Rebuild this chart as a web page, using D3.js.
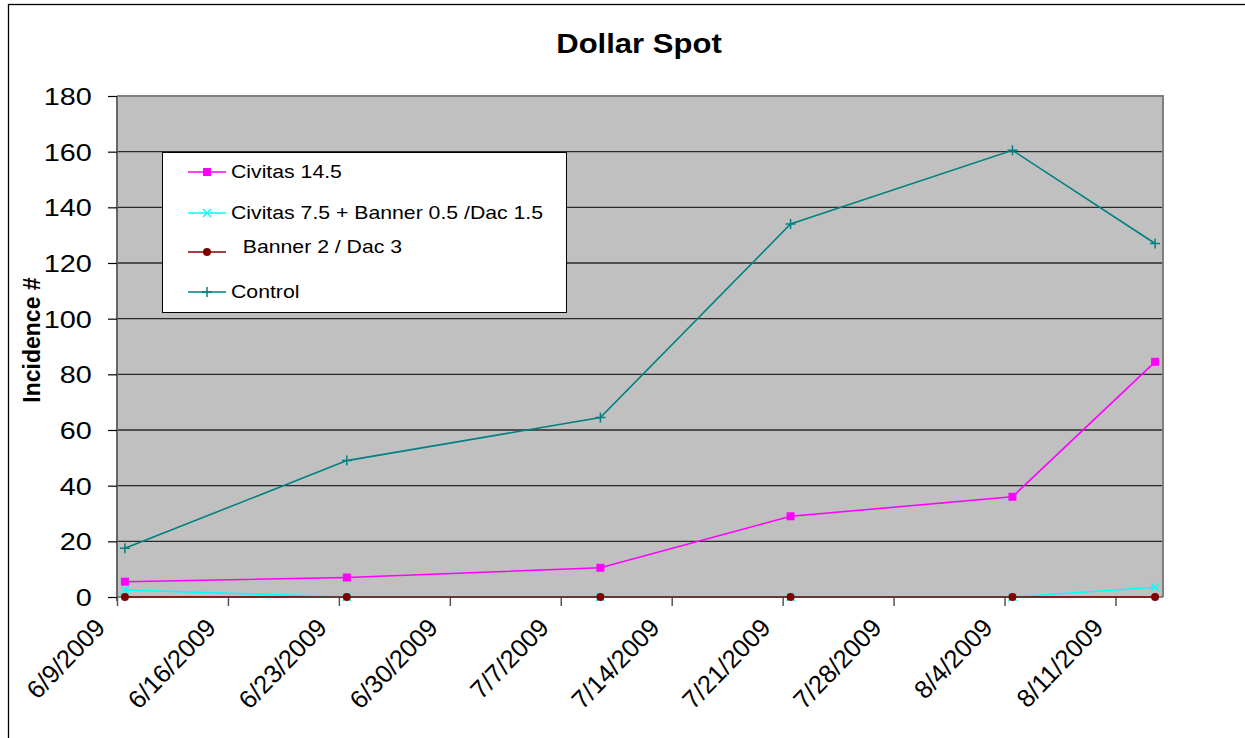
<!DOCTYPE html>
<html>
<head>
<meta charset="utf-8">
<script src="https://cdn.jsdelivr.net/npm/d3@7/dist/d3.min.js"></script>
<style>
  html, body { margin: 0; padding: 0; background: #fff; }
  svg { display: block; }
  text { font-family: "Liberation Sans", Arial, sans-serif; fill: #000; }
</style>
</head>
<body>
<svg id="chart" width="1245" height="738"></svg>
<script>
// ---- data ----
const sampleDates = ["2009-06-09", "2009-06-23", "2009-07-09", "2009-07-21", "2009-08-04", "2009-08-13"];
const civitas145 = [5.5, 7, 10.5, 29, 36, 84.5];
const civitasBanner = [2.5, 0, 0, 0, 0, 3.5];
const bannerDac = [0, 0, 0, 0, 0, 0];
const control = [17.5, 49, 64.5, 134, 160.5, 127];
const seriesNames = ["Civitas 14.5", "Civitas 7.5 + Banner 0.5 /Dac 1.5", "  Banner 2 / Dac 3", "Control"];
const xTickLabels = ["6/9/2009", "6/16/2009", "6/23/2009", "6/30/2009", "7/7/2009", "7/14/2009", "7/21/2009", "7/28/2009", "8/4/2009", "8/11/2009"];
const yTicks = [0, 20, 40, 60, 80, 100, 120, 140, 160, 180];
const chartTitle = "Dollar Spot";
const yTitle = "Incidence #";

(function () {
// ---- layout ----
const svg = d3.select("#chart");
const pLeft = 117, pRight = 1163, pTop = 96, pBottom = 597;
const parse = d3.timeParse("%Y-%m-%d");
const parseTick = d3.timeParse("%m/%d/%Y");
const dayStart = parse("2009-06-09"), dayEnd = parse("2009-08-14");

const x = d3.scaleTime().domain([dayStart, dayEnd]).range([pLeft, pRight]);
const y = d3.scaleLinear().domain([0, 180]).range([pBottom, pTop]);
const xPt = s => x(d3.timeHour.offset(parse(s), 12));

// outer frame
svg.append("rect").attr("x", 8.5).attr("y", 4.5).attr("width", 1260).attr("height", 760)
  .attr("fill", "none").attr("stroke", "#000").attr("stroke-width", 1.3);

// plot background
svg.append("rect").attr("x", pLeft).attr("y", pTop).attr("width", pRight - pLeft).attr("height", pBottom - pTop)
  .attr("fill", "#c0c0c0");

// gridlines
svg.append("g").selectAll("line").data(yTicks.filter(v => v > 0)).join("line")
  .attr("x1", pLeft).attr("x2", pRight)
  .attr("y1", d => y(d)).attr("y2", d => y(d))
  .attr("stroke", "#2a2a2a").attr("stroke-width", 1.3);

// plot border (top/right gray)
svg.append("path")
  .attr("d", `M${pLeft},${pTop}H${pRight}V${pBottom}`)
  .attr("fill", "none").attr("stroke", "#808080").attr("stroke-width", 2);

// y axis
const yAxis = svg.append("g").attr("transform", `translate(${pLeft},0)`)
  .call(d3.axisLeft(y).tickValues(yTicks).tickSize(9).tickFormat(d3.format("d")));
yAxis.select(".domain").attr("stroke", "#666").attr("stroke-width", 2)
  .attr("d", `M0,${pTop}V${pBottom + 4}`);
yAxis.selectAll(".tick line").attr("stroke", "#000").attr("stroke-width", 1.2);
yAxis.selectAll(".tick text")
  .attr("x", -21).attr("dy", "0.36em")
  .attr("transform", "scale(1.2,1)")
  .style("font-size", "24px").style("font-family", "'Liberation Sans', Arial, sans-serif");

// x axis
const xTickDates = xTickLabels.map(s => parseTick(s));
const xAxis = svg.append("g").attr("transform", `translate(0,${pBottom})`)
  .call(d3.axisBottom(x).tickValues(xTickDates).tickSize(9).tickFormat(d3.timeFormat("%-m/%-d/%Y")));
xAxis.select(".domain").attr("stroke", "#666").attr("stroke-width", 1.5)
  .attr("d", `M${pLeft},0H${pRight}`);
xAxis.selectAll(".tick line").attr("stroke", "#555").attr("stroke-width", 1.5);
xAxis.selectAll(".tick text")
  .attr("y", null).attr("dy", null)
  .attr("text-anchor", "end")
  .attr("transform", "translate(-11,32) rotate(-46)")
  .style("font-size", "25.5px").style("font-family", "'Liberation Sans', Arial, sans-serif");

// series
const series = [
  { name: seriesNames[0], values: civitas145, color: "#ff00ff", marker: "square" },
  { name: seriesNames[1], values: civitasBanner, color: "#00ffff", marker: "x" },
  { name: seriesNames[2], values: bannerDac, color: "#800000", marker: "circle" },
  { name: seriesNames[3], values: control, color: "#008080", marker: "plus" }
];

function drawMarker(g, type, color, cx, cy) {
  if (type === "square") {
    g.append("rect").attr("x", cx - 4).attr("y", cy - 4).attr("width", 8).attr("height", 8).attr("fill", color);
  } else if (type === "circle") {
    g.append("circle").attr("cx", cx).attr("cy", cy).attr("r", 4).attr("fill", color);
  } else if (type === "x") {
    g.append("path").attr("d", `M${cx - 4},${cy - 4}L${cx + 4},${cy + 4}M${cx - 4},${cy + 4}L${cx + 4},${cy - 4}`)
      .attr("stroke", color).attr("stroke-width", 1.5).attr("fill", "none");
  } else if (type === "plus") {
    g.append("path").attr("d", `M${cx - 5},${cy}H${cx + 5}M${cx},${cy - 5}V${cy + 5}`)
      .attr("stroke", color).attr("stroke-width", 1.5).attr("fill", "none");
  }
}

const line = d3.line().x((d, i) => xPt(sampleDates[i])).y(d => y(d));
series.forEach(s => {
  const g = svg.append("g");
  g.append("path").attr("d", line(s.values)).attr("fill", "none")
    .attr("stroke", s.color).attr("stroke-width", 1.6);
  s.values.forEach((v, i) => drawMarker(g, s.marker, s.color, xPt(sampleDates[i]), y(v)));
});

// title
svg.append("text").attr("text-anchor", "middle")
  .attr("transform", "translate(639,53) scale(1.15,1)")
  .style("font-size", "27px").style("font-weight", "bold").text(chartTitle);

// y title
svg.append("text").attr("text-anchor", "middle")
  .attr("transform", "translate(40,340) rotate(-90)")
  .style("font-size", "23px").style("font-weight", "bold").text(yTitle);

// legend
const lg = svg.append("g");
lg.append("rect").attr("x", 162.5).attr("y", 152.5).attr("width", 404).attr("height", 160)
  .attr("fill", "#fff").attr("stroke", "#000").attr("stroke-width", 1);
const legendY = [172, 213, 252, 292];
series.forEach((s, i) => {
  const ly = legendY[i];
  lg.append("line").attr("x1", 188).attr("x2", 226).attr("y1", ly).attr("y2", ly)
    .attr("stroke", s.color).attr("stroke-width", 1.5);
  drawMarker(lg, s.marker, s.color, 207, ly);
  lg.append("text").attr("xml:space", "preserve")
    .attr("transform", `translate(231,${ly + (i === 2 ? 1 : 6)}) scale(1.18,1)`)
    .style("font-size", "18px").style("white-space", "pre").text(s.name);
});
})();
</script>
</body>
</html>
